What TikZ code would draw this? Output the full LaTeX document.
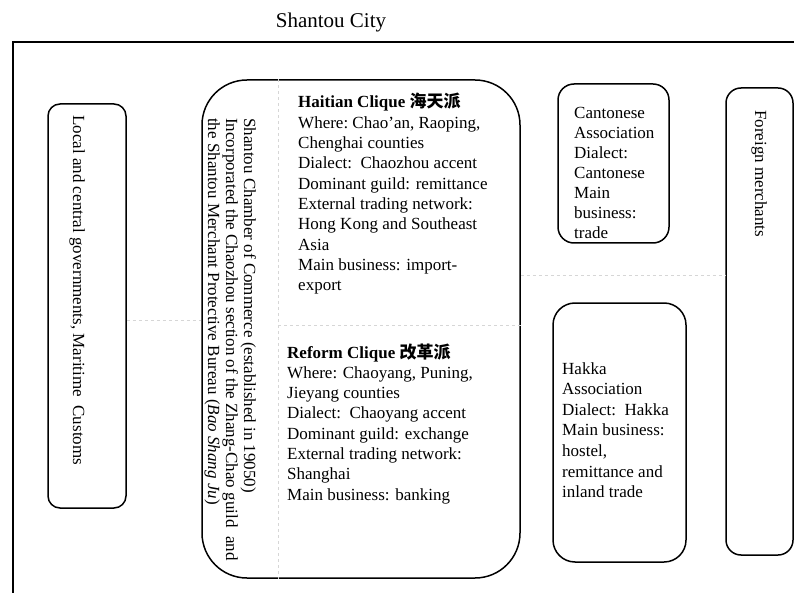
\documentclass[tikz,border=0pt]{standalone}
\usepackage{fontspec}
\setmainfont{Liberation Serif}
\newfontfamily\cjk{Noto Sans CJK SC}
\begin{document}
\begin{tikzpicture}[x=1pt,y=-1pt,
  box/.style={draw, line width=1.5pt, inner sep=0pt},
  body/.style={font=\fontsize{17}{20.3}\selectfont, align=left, inner sep=0pt, anchor=base west},
  vert/.style={font=\fontsize{17}{18}\selectfont, align=left, inner sep=0pt, rotate=-90, anchor=base west},
  faint/.style={draw=black!16, dashed, line width=0.6pt}]
\useasboundingbox (0,0) rectangle (794,593);
% title and frame
\node[font=\fontsize{21}{24}\selectfont, inner sep=0pt] (title) at (331,22) {Shantou City};
\draw[line width=1.4pt] (13,593) -- (13,42) -- (794,42);
% boxes
\node[box, rounded corners=12pt, minimum width=78pt, minimum height=404pt] (gov) at (87,306) {};
\node[box, rounded corners=45pt, minimum width=318pt, minimum height=498pt] (chamber) at (361,329) {};
\node[box, rounded corners=16pt, minimum width=111pt, minimum height=159pt] (canton) at (613.5,163.5) {};
\node[box, rounded corners=22pt, minimum width=133pt, minimum height=259pt] (hakka) at (619.5,432.5) {};
\node[box, rounded corners=15pt, minimum width=67pt, minimum height=467pt] (foreign) at (759.5,321.5) {};
% faint guide lines
\coordinate (vx) at (278,0);
\coordinate (hy) at (0,325);
\coordinate (ly) at (0,320);
\coordinate (ry) at (0,275);
\draw[faint] (chamber.north -| vx) -- (chamber.south -| vx);
\draw[faint] (vx |- hy) -- (chamber.east |- hy);
\draw[faint] (gov.east |- ly) -- (chamber.west |- ly);
\draw[faint] (chamber.east |- ry) -- (foreign.west |- ry);
% texts (multi-line nodes: base = last line)
\node[vert] (govtext) at (73,115) {Local and central governments, Maritime\ \ Customs};
\node[vert] (chambertext) at (208,118) {Shantou Chamber of Commerce (established in 19050)\\
Incorporated the Chaozhou section of the Zhang-Chao guild\ \ and\\
the Shantou Merchant Protective Bureau (\textit{Bao Shang Ju})};
\node[vert] (foreigntext) at (755,110) {Foreign merchants};
\node[body] (haitian) at (298,290.7) {\textbf{Haitian Clique} {\cjk\bfseries 海天派}\\
Where:\ Chao’an, Raoping,\\
Chenghai counties\\
Dialect:\ \ Chaozhou accent\\
Dominant\ guild: remittance\\
External\ trading network:\\
Hong Kong and Southeast\\
Asia\\
Main business: import-\\
export};
\node[body] (reform) at (287,500.1) {\textbf{Reform Clique} {\cjk\bfseries 改革派}\\
Where: Chaoyang, Puning,\\
Jieyang\ counties\\
Dialect:\ \ Chaoyang accent\\
Dominant guild: exchange\\
External\ trading network:\\
Shanghai\\
Main business: banking};
\node[body, font=\fontsize{17}{20}\selectfont] (cantontext) at (574,239) {Cantonese\\
Association\\
Dialect:\\
Cantonese\\
Main\\
business:\\
trade};
\node[body, font=\fontsize{17}{20.6}\selectfont] (hakkatext) at (562,497.6) {Hakka\\
Association\\
Dialect:\ \ Hakka\\
Main business:\\
hostel,\\
remittance and\\
inland trade};
\end{tikzpicture}
\end{document}
